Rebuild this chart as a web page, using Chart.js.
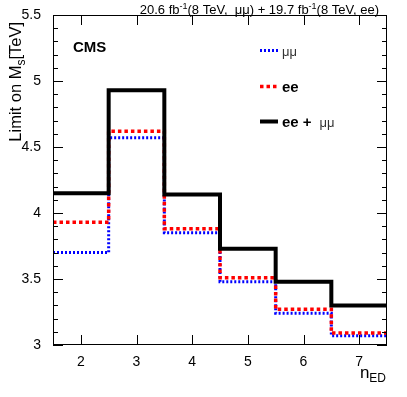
<!DOCTYPE html>
<html>
<head>
<meta charset="utf-8">
<script src="https://cdn.jsdelivr.net/npm/chart.js@4/dist/chart.umd.min.js"></script>
<style>
  html, body { margin: 0; padding: 0; background: #fff; }
  #wrap { width: 407px; height: 397px; }
</style>
</head>
<body>
<div id="wrap"><canvas id="c" width="407" height="397"></canvas></div>
<script>
// number of extra dimensions (bin centres)
const nED = [2, 3, 4, 5, 6, 7]
// lower limits on M_S in TeV
const limMuMu = [3.70, 4.57, 3.85, 3.48, 3.24, 3.07]
const limEE = [3.93, 4.62, 3.88, 3.51, 3.27, 3.09]
const limComb = [4.15, 4.93, 4.14, 3.73, 3.48, 3.30]
const yTicks = [3, 3.5, 4, 4.5, 5, 5.5]

const FONT = '"Liberation Sans", Arial, sans-serif'

// histogram steps: one point at each bin's low edge, plus the last high edge
function steps(vals) {
	const pts = nED.map((n, i) => ({ x: n - 0.5, y: vals[i] }))
	pts.push({ x: nED[nED.length - 1] + 0.5, y: vals[vals.length - 1] })
	return pts
}

function drawRich(ctx, parts, x, y, align) {
	let total = 0
	parts.forEach((p) => {
		ctx.font = p.font
		total += ctx.measureText(p.t).width
	})
	let cx = align === 'right' ? x - total : x
	parts.forEach((p) => {
		ctx.font = p.font
		ctx.fillStyle = p.color || '#000'
		ctx.textAlign = 'left'
		ctx.textBaseline = 'alphabetic'
		ctx.fillText(p.t, cx, y + (p.dy || 0))
		cx += ctx.measureText(p.t).width
	})
}

const decor = {
	id: 'decor',
	afterDatasetsDraw(chart) {
		const { ctx, chartArea: a, scales } = chart
		const xs = scales.x
		const ys = scales.y
		ctx.save()
		ctx.strokeStyle = '#000'
		ctx.lineWidth = 1
		ctx.strokeRect(a.left + 0.5, a.top + 0.5, a.right - a.left - 1, a.bottom - a.top - 1)

		ctx.beginPath()
		// x ticks, bottom and top, pointing inwards
		nED.forEach((n) => {
			const px = Math.round(xs.getPixelForValue(n)) + 0.5
			ctx.moveTo(px, a.bottom); ctx.lineTo(px, a.bottom - 10)
			ctx.moveTo(px, a.top); ctx.lineTo(px, a.top + 10)
		})
		// y ticks, major every 0.5, minor every 0.1
		for (let k = 30; k <= 55; k += 1) {
			const v = k / 10
			const len = k % 5 === 0 ? 10 : 5
			const py = Math.round(ys.getPixelForValue(v)) + 0.5
			ctx.moveTo(a.left, py); ctx.lineTo(a.left + len, py)
			ctx.moveTo(a.right, py); ctx.lineTo(a.right - len, py)
		}
		ctx.stroke()

		// top-right luminosity text
		const f = `13px ${FONT}`
		const fs = `9px ${FONT}`
		drawRich(ctx, [
			{ t: '20.6 fb', font: f },
			{ t: '-1', font: fs, dy: -5 },
			{ t: '(8 TeV,  \u03bc\u03bc) + 19.7 fb', font: f },
			{ t: '-1', font: fs, dy: -5 },
			{ t: '(8 TeV, ee)', font: f },
		], 379, 14, 'right')

		// CMS label
		ctx.font = `bold 15px ${FONT}`
		ctx.fillStyle = '#000'
		ctx.textAlign = 'left'
		ctx.textBaseline = 'alphabetic'
		ctx.fillText('CMS', 73, 52)

		// legend
		const rows = [
			{ ds: chart.data.datasets[2], y: 51, parts: [{ t: '\u03bc\u03bc', font: `13px ${FONT}`, color: '#333' }] },
			{ ds: chart.data.datasets[1], y: 87, parts: [{ t: 'ee', font: `bold 15px ${FONT}` }] },
			{ ds: chart.data.datasets[0], y: 122, parts: [
				{ t: 'ee + ', font: `bold 15px ${FONT}` },
				{ t: ' \u03bc\u03bc', font: `13px ${FONT}`, color: '#333' },
			] },
		]
		rows.forEach((r) => {
			ctx.beginPath()
			ctx.strokeStyle = r.ds.borderColor
			ctx.lineWidth = r.ds.borderWidth
			ctx.setLineDash(r.ds.borderDash || [])
			ctx.moveTo(260, r.y - 0.5)
			ctx.lineTo(278, r.y - 0.5)
			ctx.stroke()
			ctx.setLineDash([])
			drawRich(ctx, r.parts, 282, r.y + 5, 'left')
		})

		// axis titles
		drawRich(ctx, [
			{ t: 'n', font: `17px ${FONT}` },
			{ t: 'ED', font: `12px ${FONT}`, dy: 4 },
		], 386, 378, 'right')

		ctx.translate(21, 22)
		ctx.rotate(-Math.PI / 2)
		drawRich(ctx, [
			{ t: 'Limit on M', font: `16.5px ${FONT}` },
			{ t: 's', font: `12px ${FONT}`, dy: 4 },
			{ t: '[TeV]', font: `16.5px ${FONT}` },
		], 0, 0, 'right')
		ctx.restore()
	},
}

const chart = new Chart(document.getElementById('c'), {
	type: 'line',
	data: {
		datasets: [
			{ label: 'ee + \u03bc\u03bc', data: steps(limComb), borderColor: '#000', borderWidth: 4, stepped: 'before' },
			{ label: 'ee', data: steps(limEE), borderColor: '#ff0000', borderWidth: 3.5, borderDash: [3.5, 3], stepped: 'before' },
			{ label: '\u03bc\u03bc', data: steps(limMuMu), borderColor: '#0000ff', borderWidth: 3, borderDash: [2, 2], stepped: 'before' },
		],
	},
	options: {
		responsive: false,
		animation: false,
		events: [],
		layout: { padding: { top: 15, right: 20, left: 0, bottom: 0 } },
		elements: { point: { radius: 0 }, line: { borderCapStyle: 'butt', borderJoinStyle: 'miter' } },
		plugins: { legend: { display: false }, tooltip: { enabled: false } },
		scales: {
			x: {
				type: 'linear',
				min: 1.5,
				max: 7.5,
				grid: { display: false },
				border: { display: false },
				afterFit: (s) => { s.height = 52 },
				afterBuildTicks: (s) => { s.ticks = nED.map((v) => ({ value: v })) },
				ticks: { color: '#000', font: { family: FONT, size: 14 }, padding: 1, maxRotation: 0, callback: (v) => String(v) },
			},
			y: {
				min: 3,
				max: 5.5,
				grid: { display: false },
				border: { display: false },
				afterFit: (s) => { s.width = 53 },
				afterBuildTicks: (s) => { s.ticks = yTicks.map((v) => ({ value: v })) },
				ticks: { color: '#000', font: { family: FONT, size: 14 }, padding: 4, callback: (v) => String(v) },
			},
		},
	},
	plugins: [decor],
})
</script>
</body>
</html>
